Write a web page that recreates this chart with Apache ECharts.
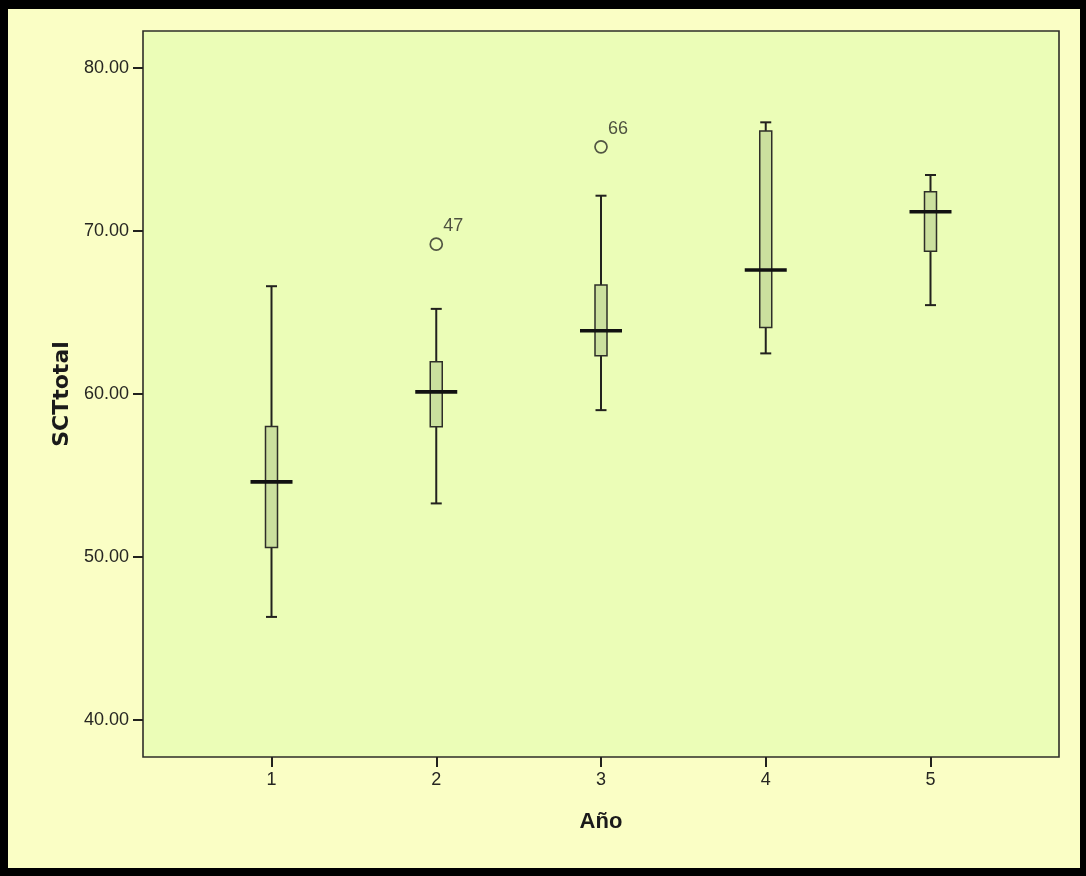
<!DOCTYPE html>
<html>
<head>
<meta charset="utf-8">
<script src="https://cdn.jsdelivr.net/npm/echarts@6/dist/echarts.min.js"></script>
<style>
  html, body { margin: 0; padding: 0; background: #000; }
  #frame { position: absolute; left: 8px; top: 9px; width: 1072px; height: 859px; background: #FAFEC5; }
  #chart { position: absolute; left: 0; top: 0; width: 1086px; height: 876px; }
</style>
</head>
<body>
<div id="frame"></div>
<div id="chart"></div>
<script>
// Año (study year) groups on the x axis
const years = [1, 2, 3, 4, 5];
// Five-number summaries of SCTtotal per year: [min, Q1, median, Q3, max]
const lowWhisker = [46.32, 53.28, 59.00, 62.48, 65.44];
const q1Values   = [50.58, 57.98, 62.33, 64.07, 68.75];
const medians    = [54.60, 60.12, 63.87, 67.59, 71.17];
const q3Values   = [58.00, 61.96, 66.67, 76.12, 72.39];
const highWhisker = [66.60, 65.21, 72.15, 76.65, 73.42];
// Outlying cases: year, value, case number
const outlierYears = [2, 3];
const outlierValues = [69.18, 75.15];
const outlierCases = ['47', '66'];
// Value-axis tick labels
const yTicks = [40, 50, 60, 70, 80];

const boxData = years.map((y, i) => [y, lowWhisker[i], q1Values[i], medians[i], q3Values[i], highWhisker[i]]);
const outlierData = outlierYears.map((y, i) => ({ value: [y, outlierValues[i]], name: outlierCases[i] }));

const ink = '#22221e';
const textFont = 'Liberation Sans, Arial, sans-serif';

function renderBox(params, api) {
  const x = api.value(0);
  const pLow = api.coord([x, api.value(1)]);
  const pQ1 = api.coord([x, api.value(2)]);
  const pMed = api.coord([x, api.value(3)]);
  const pQ3 = api.coord([x, api.value(4)]);
  const pHigh = api.coord([x, api.value(5)]);
  const cx = pMed[0];
  const boxW = 12, medW = 42, capW = 11;
  const line = (x1, y1, x2, y2, w, c) => ({
    type: 'line',
    shape: { x1, y1, x2, y2 },
    style: { stroke: c || ink, lineWidth: w }
  });
  return {
    type: 'group',
    children: [
      line(cx, pHigh[1], cx, pQ3[1], 2),
      line(cx, pQ1[1], cx, pLow[1], 2),
      line(cx - capW / 2, pHigh[1], cx + capW / 2, pHigh[1], 2),
      line(cx - capW / 2, pLow[1], cx + capW / 2, pLow[1], 2),
      {
        type: 'rect',
        shape: { x: cx - boxW / 2, y: pQ3[1], width: boxW, height: pQ1[1] - pQ3[1] },
        style: { fill: '#CBE09E', stroke: '#2e2e28', lineWidth: 1.5 }
      },
      line(cx - medW / 2, pMed[1], cx + medW / 2, pMed[1], 3.6, '#111')
    ]
  };
}

const chart = echarts.init(document.getElementById('chart'), null, { renderer: 'canvas' });
chart.setOption({
  backgroundColor: 'transparent',
  animation: false,
  grid: {
    left: 143, top: 31, right: 27, bottom: 119,
    show: true,
    backgroundColor: '#EBFDB7',
    borderColor: '#2e2e28',
    borderWidth: 1.6
  },
  xAxis: {
    type: 'value',
    min: 0.22, max: 5.78,
    name: 'Año',
    nameLocation: 'middle',
    nameGap: 54,
    nameTextStyle: { fontFamily: textFont, fontWeight: 'bold', fontSize: 22, color: '#1a1a1a' },
    axisLine: { show: false },
    splitLine: { show: false },
    axisTick: { show: true, length: 10, lineStyle: { color: ink, width: 2 }, customValues: years },
    axisLabel: { margin: 14, fontFamily: textFont, fontSize: 18, color: '#262622', customValues: years }
  },
  yAxis: {
    type: 'value',
    min: 37.73, max: 82.25,
    name: 'SCTtotal',
    nameLocation: 'middle',
    nameGap: 65,
    nameTextStyle: { fontFamily: 'DejaVu Sans, sans-serif', fontWeight: 'bold', fontSize: 22, color: '#1a1a1a' },
    axisLine: { show: false },
    splitLine: { show: false },
    axisTick: { show: true, length: 10, lineStyle: { color: ink, width: 2 }, customValues: yTicks },
    axisLabel: {
      margin: 14, fontFamily: textFont, fontSize: 18, color: '#262622',
      customValues: yTicks,
      formatter: v => v.toFixed(2)
    }
  },
  series: [
    {
      type: 'custom',
      renderItem: renderBox,
      encode: { x: 0, y: [1, 2, 3, 4, 5] },
      data: boxData,
      z: 2
    },
    {
      type: 'scatter',
      data: outlierData,
      symbol: 'circle',
      symbolSize: 12,
      itemStyle: { color: 'transparent', borderColor: '#2a2a26', borderWidth: 1.7 },
      label: {
        show: true,
        position: 'top',
        distance: 2,
        offset: [17, 0],
        formatter: p => p.name,
        fontFamily: textFont,
        fontSize: 18,
        color: '#262622'
      },
      z: 3
    }
  ]
});
</script>
</body>
</html>
